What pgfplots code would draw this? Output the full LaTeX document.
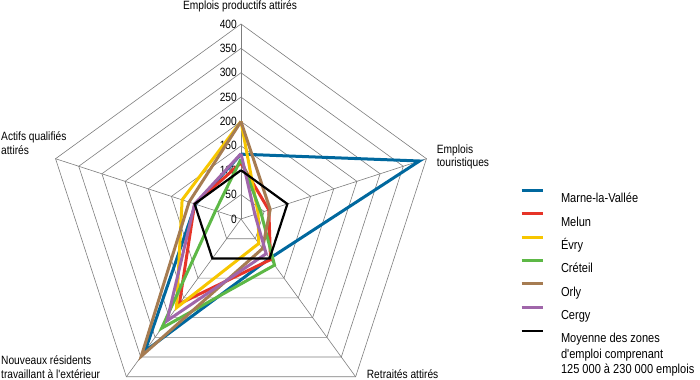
\documentclass[border=0pt]{standalone}
\usepackage{fontspec}
\setmainfont{Liberation Sans}[FakeStretch=0.85, Ligatures=TeXOff]
\usepackage{pgfplots}
\pgfplotsset{compat=1.18}
\usepackage{pgfplotstable}

\definecolor{cmarne}{RGB}{0,104,158}
\definecolor{cmelun}{RGB}{230,52,40}
\definecolor{cevry}{RGB}{247,198,0}
\definecolor{ccreteil}{RGB}{93,184,70}
\definecolor{corly}{RGB}{166,124,82}
\definecolor{ccergy}{RGB}{160,102,170}
\definecolor{gridc}{RGB}{125,125,125}

% unit pentagon (cos, sin of the five axis angles)
\pgfplotstableread{
c s
0 1
0.951057 0.309017
0.587785 -0.809017
-0.587785 -0.809017
-0.951057 0.309017
0 1
}\ring

% a = axis angle (deg), r = value
\pgfplotstableread{
a r
90 133
18 385
-54 100
-126 335
162 98
90 133
}\marne
\pgfplotstableread{
a r
90 115
18 60
-54 103
-126 215
162 100
90 115
}\melun
\pgfplotstableread{
a r
90 200
18 37
-54 62
-126 225
162 127
90 200
}\evry
\pgfplotstableread{
a r
90 123
18 43
-54 117
-126 277
162 55
90 123
}\creteil
\pgfplotstableread{
a r
90 200
18 63
-54 75
-126 348
162 112
90 200
}\orly
\pgfplotstableread{
a r
90 134
18 30
-54 88
-126 258
162 100
90 134
}\cergy
\pgfplotstableread{
a r
90 100
18 100
-54 100
-126 100
162 100
90 100
}\moyenne

\begin{document}
\begin{tikzpicture}
\begin{axis}[
  x=0.4875pt, y=0.4875pt,
  xmin=-494.36, xmax=941.54, ymin=-330.26, ymax=449.23,
  hide axis, clip=false,
  legend style={at={(axis cs:572.3,61.6)}, anchor=north west, draw=none, fill=none,
    inner sep=0pt, outer sep=0pt, row sep=6.33pt, column sep=17pt,
    font=\fontsize{13}{16}\selectfont,
    cells={anchor=base west},
    nodes={inner sep=0pt, text height=14pt, text depth=3pt}},
  legend image code/.code={\draw[#1] (0pt,12.3pt) -- (21pt,12.3pt);},
]
\path (axis cs:-494.36,-330.26) rectangle (axis cs:941.54,449.23);
% grid
\pgfplotsinvokeforeach{50,100,...,400}{
  \addplot[gridc, line width=0.6pt, forget plot] table[x expr={#1*\thisrow{c}}, y expr={#1*\thisrow{s}}]{\ring};
}
\addplot[gridc, line width=0.6pt, forget plot] coordinates {(0,0) (0,400)};
\addplot[gridc, line width=0.6pt, forget plot] coordinates {(0,0) (380.42,123.61)};
\addplot[gridc, line width=0.6pt, forget plot] coordinates {(0,0) (235.11,-323.61)};
\addplot[gridc, line width=0.6pt, forget plot] coordinates {(0,0) (-235.11,-323.61)};
\addplot[gridc, line width=0.6pt, forget plot] coordinates {(0,0) (-380.42,123.61)};
% tick labels
\pgfplotsinvokeforeach{0,50,...,400}{
  \node[anchor=east, inner sep=0pt, font=\fontsize{12}{14}\selectfont] at (axis cs:-8.2,#1) {#1};
}
% series
\addplot[cmarne, line width=3pt] table[x expr={\thisrow{r}*cos(\thisrow{a})}, y expr={\thisrow{r}*sin(\thisrow{a})}]{\marne};
\addlegendentry{Marne-la-Vallée}
\addplot[cmelun, line width=3pt] table[x expr={\thisrow{r}*cos(\thisrow{a})}, y expr={\thisrow{r}*sin(\thisrow{a})}]{\melun};
\addlegendentry{Melun}
\addplot[cevry, line width=3pt] table[x expr={\thisrow{r}*cos(\thisrow{a})}, y expr={\thisrow{r}*sin(\thisrow{a})}]{\evry};
\addlegendentry{Évry}
\addplot[ccreteil, line width=3pt] table[x expr={\thisrow{r}*cos(\thisrow{a})}, y expr={\thisrow{r}*sin(\thisrow{a})}]{\creteil};
\addlegendentry{Créteil}
\addplot[corly, line width=3pt] table[x expr={\thisrow{r}*cos(\thisrow{a})}, y expr={\thisrow{r}*sin(\thisrow{a})}]{\orly};
\addlegendentry{Orly}
\addplot[ccergy, line width=3pt] table[x expr={\thisrow{r}*cos(\thisrow{a})}, y expr={\thisrow{r}*sin(\thisrow{a})}]{\cergy};
\addlegendentry{Cergy}
\addplot[black, line width=2.2pt] table[x expr={\thisrow{r}*cos(\thisrow{a})}, y expr={\thisrow{r}*sin(\thisrow{a})}]{\moyenne};
\addlegendentry{\begin{tabular}[t]{@{}l@{}}Moyenne des zones\\[-0.5pt]d'emploi comprenant\\[-0.5pt]125 000 à 230 000 emplois\end{tabular}}
% axis labels
\begin{scope}[every node/.style={inner sep=0pt, font=\fontsize{12}{14}\selectfont}]
\node[anchor=base] at (axis cs:-2,429.7) {Emplois productifs attirés};
\node[anchor=base west] at (axis cs:401.4,134.8) {Emplois};
\node[anchor=base west] at (axis cs:401.4,107.3) {touristiques};
\node[anchor=base west] at (axis cs:257.8,-326.2) {Retraités attirés};
\node[anchor=base west] at (axis cs:-492.3,-298) {Nouveaux résidents};
\node[anchor=base west] at (axis cs:-492.3,-326.2) {travaillant à l'extérieur};
\node[anchor=base west] at (axis cs:-492.3,160.6) {Actifs qualifiés};
\node[anchor=base west] at (axis cs:-492.3,132.7) {attirés};
\end{scope}
\end{axis}
\end{tikzpicture}
\end{document}
